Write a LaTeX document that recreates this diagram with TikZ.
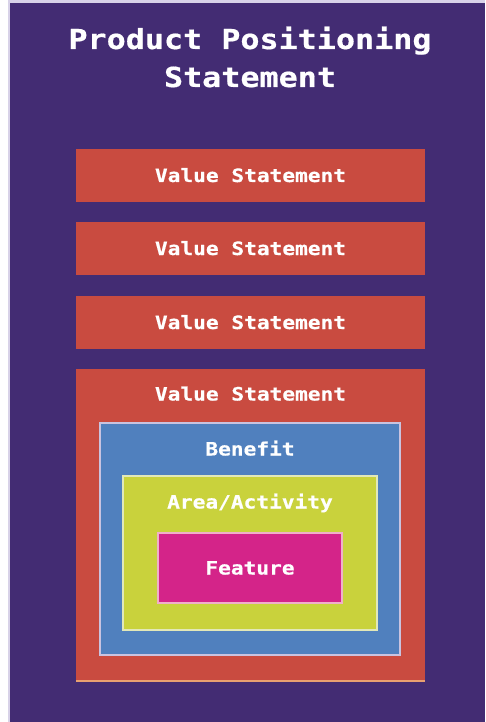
\documentclass[tikz,border=0pt]{standalone}
\usepackage{fontspec}
\newfontfamily\monob{DejaVu Sans Mono}[FakeStretch=1.15,FakeBold=0.6]
\definecolor{bgpurple}{HTML}{432C73}
\definecolor{vsred}{HTML}{C94B40}
\definecolor{benblue}{HTML}{5080BE}
\definecolor{arealime}{HTML}{C9D23C}
\definecolor{featmag}{HTML}{D42489}
\definecolor{lav}{HTML}{D8D2E8}
\definecolor{lavborder}{HTML}{C9C3E0}
\definecolor{limeborder}{HTML}{E2E8B8}
\definecolor{pinkborder}{HTML}{F0B0C8}
\definecolor{orangeline}{HTML}{E8A070}
\tikzset{
  rectbox/.style={rectangle, inner sep=0pt, outer sep=0pt, text=white},
  labeltext/.style={inner sep=0pt, text=white, font=\monob\bfseries\fontsize{18.4}{20}\selectfont},
  titletext/.style={inner sep=0pt, text=white, font=\monob\bfseries\fontsize{27.6}{30}\selectfont},
}
\begin{document}
\begin{tikzpicture}[x=1pt,y=-1pt]
\useasboundingbox (0,0) rectangle (485,722);
\fill[lav] (0,0) rectangle (485,722);
\fill[white] (0,0) rectangle (8,722);
\fill[bgpurple] (10,3) rectangle (485,722);
% title
\node[titletext, anchor=base] (t1) at (250,49) {Product Positioning};
\node[titletext, anchor=base] (t2) at (250,87) {Statement};
% value statements
\node[rectbox, fill=vsred, minimum width=349pt, minimum height=53pt] (v1) at (250.5,175.5) {};
\node[labeltext, anchor=base] (v1t) at (250.5,182) {Value Statement};
\node[rectbox, fill=vsred, minimum width=349pt, minimum height=53pt] (v2) at (250.5,248.5) {};
\node[labeltext, anchor=base] (v2t) at (250.5,255) {Value Statement};
\node[rectbox, fill=vsred, minimum width=349pt, minimum height=53pt] (v3) at (250.5,322.5) {};
\node[labeltext, anchor=base] (v3t) at (250.5,329) {Value Statement};
\node[rectbox, fill=vsred, minimum width=349pt, minimum height=312pt] (v4) at (250.5,525) {};
\draw[orangeline, line width=1.2pt] (v4.south west) -- (v4.south east);
\node[labeltext, anchor=base] (v4t) at (250.5,400.5) {Value Statement};
% benefit
\node[rectbox, fill=benblue, draw=lavborder, line width=1.2pt, minimum width=300pt, minimum height=232pt] (ben) at (250,539) {};
\node[labeltext, anchor=base] (bent) at (250,455.5) {Benefit};
% area
\node[rectbox, fill=arealime, draw=limeborder, line width=1.2pt, minimum width=254pt, minimum height=154pt] (area) at (250,553) {};
\node[labeltext, anchor=base] (areat) at (250,508.5) {Area/Activity};
% feature
\node[rectbox, fill=featmag, draw=pinkborder, line width=1.2pt, minimum width=184pt, minimum height=70pt] (feat) at (250,568) {};
\node[labeltext, anchor=base] (featt) at (250,574.5) {Feature};
\end{tikzpicture}
\end{document}
